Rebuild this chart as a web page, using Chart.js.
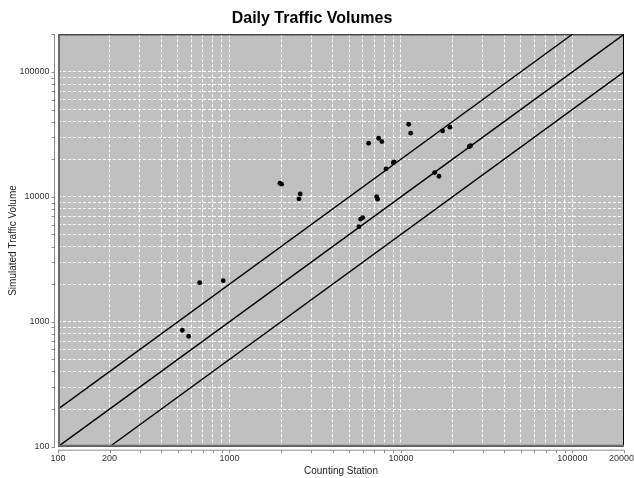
<!DOCTYPE html>
<html>
<head>
<meta charset="utf-8">
<title>Daily Traffic Volumes</title>
<script src="https://cdn.jsdelivr.net/npm/chart.js@4/dist/chart.umd.min.js"></script>
<style>
  html, body { margin: 0; padding: 0; background: #ffffff; }
  canvas { display: block; }
</style>
</head>
<body>
<canvas id="chart" width="634" height="478"></canvas>
<script>
// Observed counts at each counting station vs. the simulated model volume
const countedVolumes = [531, 578, 670, 920, 1969, 2015, 2587, 2543, 5690, 5821, 5980, 6480, 7215, 7310,
  7410, 7750, 8180, 9020, 9140, 11090, 11390, 15730, 16660, 17500, 19310, 25020, 25480];
const simulatedVolumes = [855, 766, 2056, 2133, 12850, 12620, 10550, 9620, 5770, 6620, 6810, 26860, 10040, 9570,
  29450, 27670, 16730, 18780, 19020, 38120, 32300, 15630, 14620, 33720, 36080, 25230, 25700];

// Axis range (both axes logarithmic) and labelled ticks
const axisMin = 100;
const axisMax = 200000;
const xTickLabels = ['100', '200', '1000', '10000', '100000', '200000'];
const yTickLabels = ['100', '1000', '10000', '100000'];

// Reference lines: simulated = ratio * counted
const ratioLines = [2, 1, 0.5];

// Grid positions: 1..9 times every decade inside the range
function gridValues() {
  const v = [];
  for (let d = 100; d <= axisMax; d *= 10) {
    for (let m = 1; m <= 9; m++) {
      const t = d * m;
      if (t <= axisMax) v.push(t);
    }
  }
  return v;
}

const points = countedVolumes.map((x, i) => ({ x: x, y: simulatedVolumes[i] }));

const lineDatasets = ratioLines.map(r => {
  const x0 = Math.max(axisMin, axisMin / r);
  const x1 = Math.min(axisMax, axisMax / r);
  return {
    type: 'line',
    data: [{ x: x0, y: x0 * r }, { x: x1, y: x1 * r }],
    borderColor: '#000000',
    borderWidth: 1.4,
    pointRadius: 0,
    fill: false,
    tension: 0
  };
});

const FONT = "'Liberation Sans', Arial, sans-serif";

// Gray plot background, frame, offset axis lines and small tick marks
const plotFrame = {
  id: 'plotFrame',
  beforeDraw(chart) {
    const { ctx, chartArea: a } = chart;
    ctx.save();
    ctx.fillStyle = '#c0c0c0';
    ctx.fillRect(a.left, a.top, a.right - a.left, a.bottom - a.top);
    ctx.restore();
  },
  afterDraw(chart) {
    const { ctx, chartArea: a, scales } = chart;
    ctx.save();
    // frame
    ctx.strokeStyle = '#000000';
    ctx.lineWidth = 1;
    ctx.strokeRect(a.left + 0.5, a.top + 0.5, a.right - a.left - 1, a.bottom - a.top - 1);
    ctx.strokeStyle = '#6a6a6a';
    ctx.lineWidth = 2;
    ctx.beginPath();
    ctx.moveTo(a.left + 1, a.top);
    ctx.lineTo(a.left + 1, a.bottom - 1);
    ctx.lineTo(a.right, a.bottom - 1);
    ctx.stroke();

    // axis lines, set slightly away from the plot
    ctx.strokeStyle = '#8a8a8a';
    ctx.lineWidth = 1;
    const yAxisX = a.left - 3.5;
    const xAxisY = a.bottom + 3.5;
    ctx.beginPath();
    ctx.moveTo(yAxisX, a.top);
    ctx.lineTo(yAxisX, a.bottom + 1);
    ctx.moveTo(a.left, xAxisY);
    ctx.lineTo(a.right, xAxisY);
    ctx.stroke();

    // tick marks
    ctx.beginPath();
    gridValues().forEach(v => {
      const py = Math.round(scales.y.getPixelForValue(v)) + 0.5;
      ctx.moveTo(yAxisX, py);
      ctx.lineTo(yAxisX - 3, py);
      const px = Math.round(scales.x.getPixelForValue(v)) + 0.5;
      ctx.moveTo(px, xAxisY);
      ctx.lineTo(px, xAxisY + 3);
    });
    ctx.stroke();
    ctx.restore();
  }
};

function logAxis(labels, titleText, isX) {
  return {
    type: 'logarithmic',
    min: axisMin,
    max: axisMax,
    afterBuildTicks(scale) {
      scale.ticks = gridValues().map(v => ({ value: v }));
    },
    afterFit(scale) {
      if (isX) {
        scale.height = 31.3;
        scale.paddingLeft = 0;
        scale.paddingRight = 0;
      } else {
        scale.width = 58;
        scale.paddingTop = 0;
        scale.paddingBottom = 0;
      }
    },
    ticks: {
      autoSkip: false,
      maxRotation: 0,
      minRotation: 0,
      padding: isX ? 6.5 : 8.5,
      color: '#333333',
      font: { family: FONT, size: 9 },
      callback(value) {
        const s = String(value);
        return labels.includes(s) ? s : '';
      }
    },
    grid: {
      color: '#ffffff',
      lineWidth: 1,
      drawTicks: false
    },
    border: {
      display: false,
      dash: [3, 2]
    },
    title: {
      display: true,
      text: titleText,
      color: '#222222',
      font: { family: FONT, size: 10 },
      padding: isX ? { top: 1, bottom: 1 } : { top: 7, bottom: 7 }
    }
  };
}

new Chart(document.getElementById('chart'), {
  type: 'scatter',
  data: {
    datasets: [
      {
        type: 'scatter',
        data: points,
        backgroundColor: '#000000',
        borderColor: '#000000',
        borderWidth: 0,
        pointRadius: 2.4,
        pointHoverRadius: 2.4,
        showLine: false
      },
      ...lineDatasets
    ]
  },
  options: {
    responsive: false,
    animation: false,
    layout: { padding: { left: 0, right: 10, top: 0, bottom: 0 } },
    plugins: {
      legend: { display: false },
      tooltip: { enabled: false },
      title: {
        display: true,
        text: 'Daily Traffic Volumes',
        color: '#000000',
        font: { family: FONT, size: 16, weight: 'bold' },
        padding: { top: 9, bottom: 6.1 }
      }
    },
    scales: {
      x: logAxis(xTickLabels, 'Counting Station', true),
      y: logAxis(yTickLabels, 'Simulated Traffic Volume', false)
    }
  },
  plugins: [plotFrame]
});
</script>
</body>
</html>
